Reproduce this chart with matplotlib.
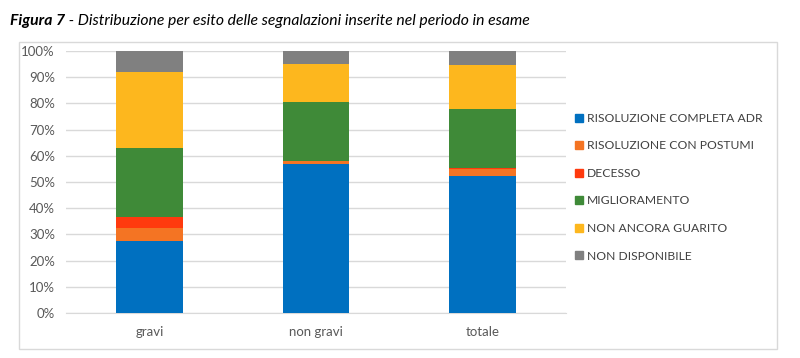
import matplotlib
matplotlib.use("Agg")
import matplotlib.pyplot as plt
import numpy as np
from matplotlib.patches import Rectangle
from matplotlib.lines import Line2D
from matplotlib.ticker import PercentFormatter

plt.rcParams['font.family'] = ['Lato', 'DejaVu Sans']

categories = ["gravi", "non gravi", "totale"]
series_names = ["RISOLUZIONE COMPLETA ADR", "RISOLUZIONE CON POSTUMI", "DECESSO",
                "MIGLIORAMENTO", "NON ANCORA GUARITO", "NON DISPONIBILE"]
risoluzione_completa = [27.5, 56.7, 52.3]
risoluzione_postumi = [5.1, 1.3, 2.5]
decesso = [4.2, 0.1, 0.4]
miglioramento = [26.1, 22.4, 22.7]
non_ancora_guarito = [29.2, 14.5, 16.6]
non_disponibile = [7.9, 5.0, 5.5]
colors = ["#0070C0", "#F47423", "#FF3A0E", "#3F8A38", "#FDB71E", "#808080"]

series = [risoluzione_completa, risoluzione_postumi, decesso,
          miglioramento, non_ancora_guarito, non_disponibile]

fig = plt.figure(figsize=(8, 3.58), dpi=100)
W, H = 800, 358

# chart border
fig.patches.append(Rectangle((19 / W, 1 - 349 / H), (777 - 19) / W, (349 - 42) / H,
                             transform=fig.transFigure, fill=False,
                             edgecolor="#D9D9D9", linewidth=1.0))

ax = fig.add_axes([66 / W, 1 - 313 / H, 500 / W, (313 - 51) / H])
x = np.arange(len(categories))
bottom = np.zeros(len(categories))
for vals, c in zip(series, colors):
    ax.bar(x, vals, width=0.4, bottom=bottom, color=c, zorder=3)
    bottom += np.array(vals)

ax.set_xlim(-0.5, 2.5)
ax.set_ylim(0, 100)
ax.set_yticks(np.arange(0, 101, 10))
ax.yaxis.set_major_formatter(PercentFormatter(decimals=0))
ax.set_xticks(x)
ax.set_xticklabels(categories)
ax.grid(axis='y', color="#D9D9D9", linewidth=1.0, zorder=0)
for s in ["top", "right", "left"]:
    ax.spines[s].set_visible(False)
ax.spines["bottom"].set_color("#D9D9D9")
ax.tick_params(axis='both', length=0, labelsize=9.5, colors="#595959")
ax.tick_params(axis='y', pad=8)
ax.tick_params(axis='x', pad=9)

handles = [Line2D([0], [0], marker='s', linestyle='none', markersize=5.5,
                  markerfacecolor=c, markeredgecolor=c) for c in colors]
leg = fig.legend(handles, series_names, loc='upper left',
                 bbox_to_anchor=(571 / W, 1 - 108 / H), frameon=False,
                 fontsize=8.7, handlelength=0.6, handletextpad=0.35,
                 labelspacing=1.37, borderaxespad=0)
for t in leg.get_texts():
    t.set_color("#404040")

# title
t1 = fig.text(10 / W, 1 - 21 / H, "Figura 7", fontsize=11.3, fontstyle='italic',
              fontweight='bold', va='center', ha='left', color="#000000")
fig.canvas.draw()
bb = t1.get_window_extent(renderer=fig.canvas.get_renderer())
fig.text(bb.x1 / W / (fig.dpi / 100), 1 - 21 / H,
         " - Distribuzione per esito delle segnalazioni inserite nel periodo in esame",
         fontsize=11.3, fontstyle='italic', va='center', ha='left', color="#000000")

fig.savefig("out.png", dpi=100)
